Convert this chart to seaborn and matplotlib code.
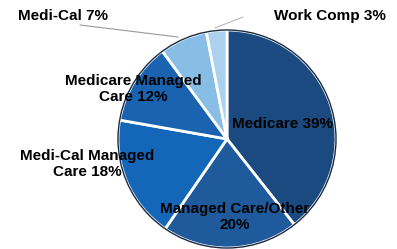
import seaborn as sns
import matplotlib.pyplot as plt
from matplotlib.patches import Circle

# payer mix data (clockwise from 12 o'clock)
payers = ["Medicare", "Managed Care/Other", "Medi-Cal Managed\nCare",
          "Medicare Managed\nCare", "Medi-Cal", "Work Comp"]
shares = [39, 20, 18, 12, 7, 3]
colors = ["#1b4a80", "#1f5a9c", "#1466b8", "#1a63b0", "#88bee6", "#acd1ee"]

sns.set_style("white")
plt.rcParams["font.family"] = ["Liberation Sans", "DejaVu Sans"]

fig = plt.figure(figsize=(3.97, 2.49), dpi=100)
ax = fig.add_axes([0, 0, 1, 1])

cx, cy, r = 227, 110, 109
wedges, _ = ax.pie(shares, colors=colors, startangle=90, counterclock=False,
                   center=(cx, cy), radius=r, frame=True,
                   wedgeprops=dict(edgecolor="white", linewidth=2))
ax.add_patch(Circle((cx, cy), r, fill=False, edgecolor="#1a2a40", linewidth=1))

ax.set_xlim(0, 397)
ax.set_ylim(0, 249)
ax.set_aspect("equal")
ax.axis("off")

labels = [f"{p} {s}%" for p, s in zip(payers, shares)]
labels[1] = "Managed Care/Other\n20%"
label_pos = [(283, 125), (235, 32), (87, 85), (133, 160), (63, 233), (330, 233)]
kw = dict(ha="center", va="center", fontsize=11, fontweight="bold",
          color="black", linespacing=1.1)
for lab, (x, y) in zip(labels, label_pos):
    ax.text(x, y, lab, **kw)

# leader lines for the small slices
ax.plot([80, 178], [224, 212], color="#999999", lw=0.8)
ax.plot([215, 243], [221, 232], color="#bbbbbb", lw=0.8)

fig.savefig("out.png", dpi=100)
